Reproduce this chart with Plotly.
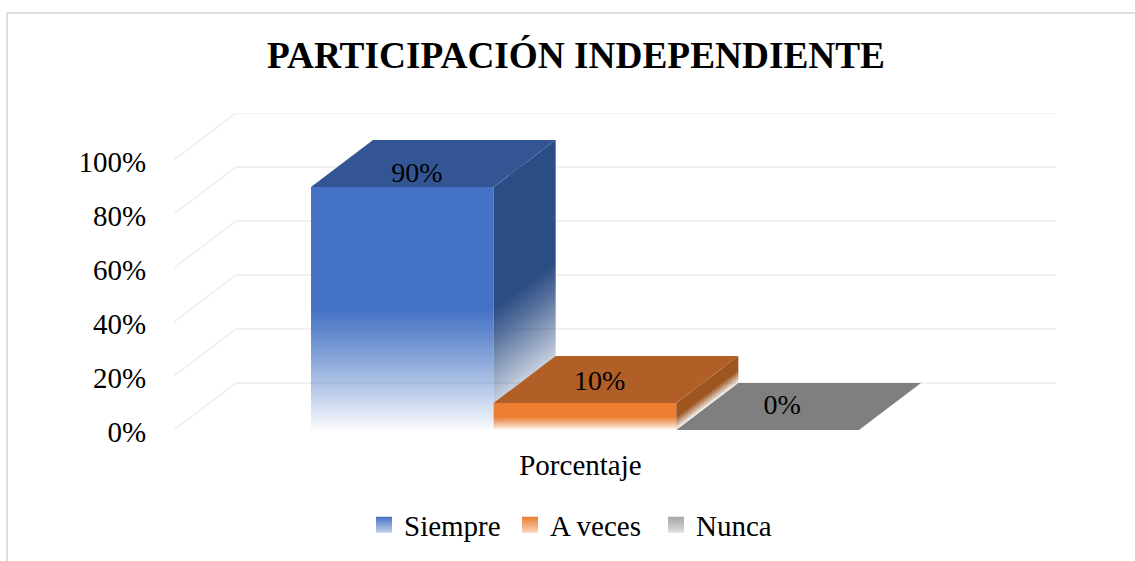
import plotly.graph_objects as go

title = "PARTICIPACIÓN INDEPENDIENTE"
category = "Porcentaje"
series = ["Siempre", "A veces", "Nunca"]
values = [90, 10, 0]
labels = ["90%", "10%", "0%"]
y_ticks = [0, 20, 40, 60, 80, 100]
y_tick_text = ["0%", "20%", "40%", "60%", "80%", "100%"]

front_colors = ["68,114,196", "237,125,49", "165,165,165"]
top_colors = ["51,85,147", "177,95,38", "127,127,127"]
side_colors = ["43,76,132", "158,85,32", "110,110,110"]
legend_tints = ["#c5d3ec", "#f9d5bc", "#e0e0e0"]
label_lift = [4.5, 7.4, 8.4]

W, H = 1135, 561
BAR_PX = 548 / 3
PX_PER_PCT = 2.7
L, T, B, R = 174, 113, 131, 79
PLOT_W = W - L - R
DEPTH_PX = 62
SX = DEPTH_PX / BAR_PX    # depth shear in x units
SY = 47 / PX_PER_PCT      # depth shear in y units
XR = [-0.75, -0.75 + PLOT_W / BAR_PX]
X_END = 3.75 + SX


def fade(rgb):
    return [[0, f"rgba({rgb},1)"], [0.5, f"rgba({rgb},1)"], [0.62, f"rgba({rgb},0.8)"],
            [0.85, f"rgba({rgb},0.35)"], [1, f"rgba({rgb},0.02)"]]


def x_of_px(p):
    return XR[0] + (p - L) / BAR_PX


def px_of_x(x):
    return L + (x - XR[0]) * BAR_PX


fig = go.Figure()

# wall / floor gridlines, projected obliquely
for v in y_ticks:
    fig.add_trace(go.Scatter(
        x=[XR[0], XR[0] + SX, X_END], y=[v, v + SY, v + SY], mode="lines",
        line=dict(color="#f1f1f1", width=2), hoverinfo="skip", showlegend=False, cliponaxis=False))

for i, (name, v) in enumerate(zip(series, values)):
    x0, x1 = i, i + 1
    if v > 0:
        # front face
        fig.add_trace(go.Scatter(
            x=[x0, x1, x1, x0, x0], y=[0, 0, v, v, 0], mode="lines", line=dict(width=0),
            fill="toself", fillcolor=f"rgb({front_colors[i]})",
            fillgradient=dict(type="vertical", start=v, stop=0, colorscale=fade(front_colors[i])),
            hoverinfo="skip", showlegend=False, cliponaxis=False))
        # side face: depth strips on whole pixels so the fade follows the oblique floor
        start_px = round(px_of_x(x1))
        edges = [x1] + [x_of_px(start_px + 2 * k) for k in range(1, DEPTH_PX // 2)] + [x1 + SX]
        for xa, xb in zip(edges[:-1], edges[1:]):
            da, db = (xa - x1) / SX, (xb - x1) / SX
            lift = (da + db) / 2 * SY
            fig.add_trace(go.Scatter(
                x=[xa, xb, xb, xa, xa],
                y=[da * SY, db * SY, v + db * SY, v + da * SY, da * SY],
                mode="lines", line=dict(width=0), fill="toself",
                fillcolor=f"rgb({side_colors[i]})",
                fillgradient=dict(type="vertical", start=v + lift, stop=lift,
                                  colorscale=fade(side_colors[i])),
                hoverinfo="skip", showlegend=False, cliponaxis=False))
    # top face
    fig.add_trace(go.Scatter(
        x=[x0, x1, x1 + SX, x0 + SX, x0], y=[v, v, v + SY, v + SY, v],
        mode="lines", line=dict(width=0), fill="toself", fillcolor=f"rgb({top_colors[i]})",
        hoverinfo="skip", showlegend=False, cliponaxis=False))

# data labels
fig.add_trace(go.Scatter(
    x=[i + 0.5 + 0.08 for i in range(3)], y=[v + l for v, l in zip(values, label_lift)],
    mode="text", text=labels, textposition="middle center",
    textfont=dict(family="Liberation Serif", size=28, color="#000000"),
    hoverinfo="skip", showlegend=False, cliponaxis=False))

# legend entries
for i, name in enumerate(series):
    fig.add_trace(go.Scatter(
        x=[None], y=[None], mode="markers", name=name,
        marker=dict(symbol="square", size=16, color=f"rgb({front_colors[i]})",
                    gradient=dict(type="vertical", color=legend_tints[i]))))


# outer frame
def fx(x): return (x - L) / PLOT_W
def fy(y): return 1 - (y - T) / (H - T - B)


frame = dict(type="line", xref="paper", yref="paper", line=dict(color="#dedede", width=2))
fig.add_shape(x0=fx(7), x1=fx(W), y0=fy(13), y1=fy(13), **frame)
fig.add_shape(x0=fx(7), x1=fx(7), y0=fy(13), y1=fy(H), **frame)

font = "Liberation Serif"
fig.update_layout(
    width=W, height=H, margin=dict(l=L, r=R, t=T, b=B, pad=0, autoexpand=False),
    paper_bgcolor="#ffffff", plot_bgcolor="rgba(0,0,0,0)",
    font=dict(family=font, size=29, color="#000000"),
    title=dict(text=f"<b>{title}</b>", x=576 / W, xanchor="center", y=1 - 55 / H, yanchor="middle",
               font=dict(family=font, size=37.3, color="#000000")),
    xaxis=dict(range=XR, showgrid=False, zeroline=False, showline=False,
               tickmode="array", tickvals=[1.475], ticktext=[category],
               ticks="outside", ticklen=9, tickcolor="rgba(0,0,0,0)", fixedrange=True),
    yaxis=dict(range=[0, 100 + SY], showgrid=False, zeroline=False, showline=False,
               tickmode="array", tickvals=y_ticks, ticktext=y_tick_text, ticklabelshift=2,
               ticks="outside", ticklen=21, tickcolor="rgba(0,0,0,0)", fixedrange=True),
    legend=dict(orientation="h", xref="container", yref="container",
                x=364 / W, xanchor="left", y=1 - 525 / H, yanchor="middle",
                entrywidth=101, entrywidthmode="pixels",
                bgcolor="rgba(0,0,0,0)", font=dict(family=font, size=29, color="#000000")),
)

fig.write_html("out.html", config={"displayModeBar": False},
               post_script="document.body.style.margin='0';document.body.style.overflow='hidden';")
